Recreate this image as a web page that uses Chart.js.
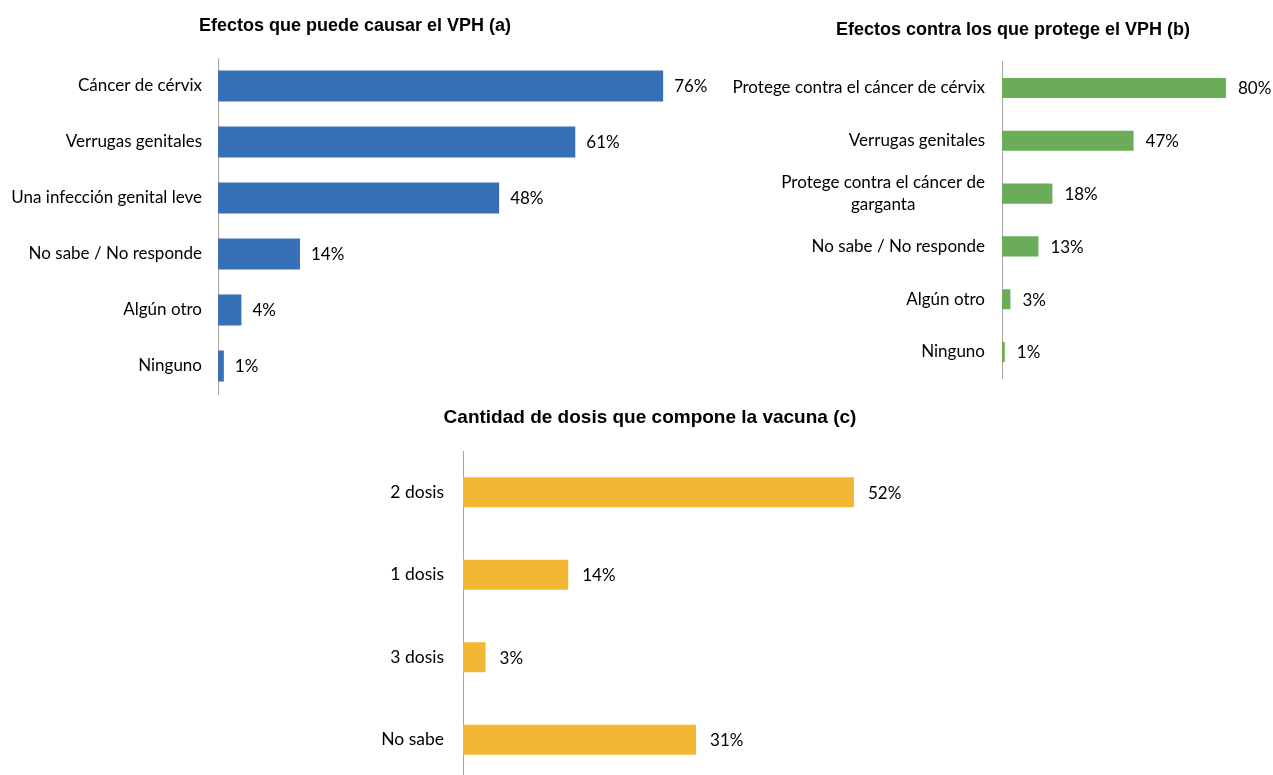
<!DOCTYPE html>
<html><head><meta charset="utf-8">
<script src="https://cdn.jsdelivr.net/npm/chart.js@4.4.1/dist/chart.umd.min.js"></script>
<style>
html,body{margin:0;padding:0;background:#fff;overflow:hidden;width:1273px;height:775px;position:relative;}
canvas{position:absolute;display:block;}
</style></head><body>
<canvas id="ca" width="720" height="400" style="left:0px;top:0px"></canvas>
<canvas id="cb" width="553" height="400" style="left:720px;top:0px"></canvas>
<canvas id="cc" width="620" height="395" style="left:340px;top:395px"></canvas>
<script>
// ---- data ----
const titleA = 'Efectos que puede causar el VPH (a)';
const catsA = ['Cáncer de cérvix','Verrugas genitales','Una infección genital leve','No sabe / No responde','Algún otro','Ninguno'];
const valsA = [76, 61, 48, 14, 4, 1];

const titleB = 'Efectos contra los que protege el VPH (b)';
const catsB = ['Protege contra el cáncer de cérvix','Verrugas genitales',['Protege contra el cáncer de','garganta'],'No sabe / No responde','Algún otro','Ninguno'];
const valsB = [80, 47, 18, 13, 3, 1];

const titleC = 'Cantidad de dosis que compone la vacuna (c)';
const catsC = ['2 dosis','1 dosis','3 dosis','No sabe'];
const valsC = [52, 14, 3, 31];

const FONT_FAMILY = 'Lato, "Noto Sans", sans-serif';

const labelPlugin = {
  id: 'customLabels',
  afterDraw(chart, args, opts) {
    const ctx = chart.ctx;
    const yScale = chart.scales.y;
    const meta = chart.getDatasetMeta(0);
    ctx.save();
    ctx.fillStyle = '#000';
    ctx.textBaseline = 'middle';
    // category labels
    ctx.font = opts.catSize + 'px ' + FONT_FAMILY;
    chart.data.labels.forEach((lab, i) => {
      const y = yScale.getPixelForValue(i);
      const right = yScale.right - opts.tickPad;
      const lines = Array.isArray(lab) ? lab : [lab];
      const widths = lines.map(l => ctx.measureText(l).width);
      const maxW = Math.max(...widths);
      const lh = 22;
      const y0 = y - (lines.length - 1) * lh / 2;
      lines.forEach((l, k) => {
        ctx.textAlign = 'center';
        ctx.fillText(l, right - maxW / 2, y0 + k * lh);
      });
    });
    // value labels
    ctx.font = opts.valSize + 'px ' + FONT_FAMILY;
    ctx.textAlign = 'left';
    meta.data.forEach((bar, i) => {
      const v = chart.data.datasets[0].data[i];
      ctx.fillText(v + '%', bar.x + opts.valPad, bar.y + 1);
    });
    ctx.restore();
  }
};

function makeChart(id, title, cats, vals, color, c) {
  return new Chart(document.getElementById(id), {
    type: 'bar',
    data: { labels: cats, datasets: [{ data: vals, backgroundColor: color, borderWidth: 0,
      barPercentage: c.barPct, categoryPercentage: 1 }] },
    options: {
      indexAxis: 'y',
      responsive: false,
      animation: false,
      events: [],
      layout: { padding: { left: c.padL, right: c.padR, top: 0, bottom: c.padB } },
      plugins: {
        legend: { display: false },
        tooltip: { enabled: false },
        title: { display: true, text: title, color: '#000',
          font: { family: '"Liberation Sans", Arial, sans-serif', size: c.tSize, weight: 'bold', lineHeight: 1.2 },
          padding: { top: c.tTop, bottom: c.tBot } },
        customLabels: { tickPad: c.tickPad, valPad: c.valPad, catSize: c.catSize, valSize: c.valSize }
      },
      scales: {
        x: { display: false, min: 0, max: c.xmax },
        y: {
          afterFit(scale) { scale.width = c.axisW; },
          grid: { display: false, drawTicks: false },
          border: { display: true, color: '#a6a6a6', width: 1 },
          ticks: { display: false }
        }
      }
    },
    plugins: [labelPlugin]
  });
}

makeChart('ca', titleA, catsA, valsA, '#3870b7',
  { padL: 0, padR: 10, padB: 6, tSize: 18, tTop: 15.2, tBot: 21.2, axisW: 218, xmax: 84, barPct: 0.555,
    tickPad: 16, valPad: 11, catSize: 17, valSize: 17 });
makeChart('cb', titleB, catsB, valsB, '#6aac58',
  { padL: 33, padR: 0, padB: 21.6, tSize: 18, tTop: 19.2, tBot: 20.8, axisW: 249, xmax: 96.8, barPct: 0.38,
    tickPad: 17, valPad: 12, catSize: 17, valSize: 17 });
makeChart('cc', titleC, catsC, valsC, '#f2b834',
  { padL: 0, padR: 0, padB: 9, tSize: 19, tTop: 11.1, tBot: 22.1, axisW: 123, xmax: 66.1, barPct: 0.364,
    tickPad: 19, valPad: 14, catSize: 17.5, valSize: 17 });
</script>
</body></html>
